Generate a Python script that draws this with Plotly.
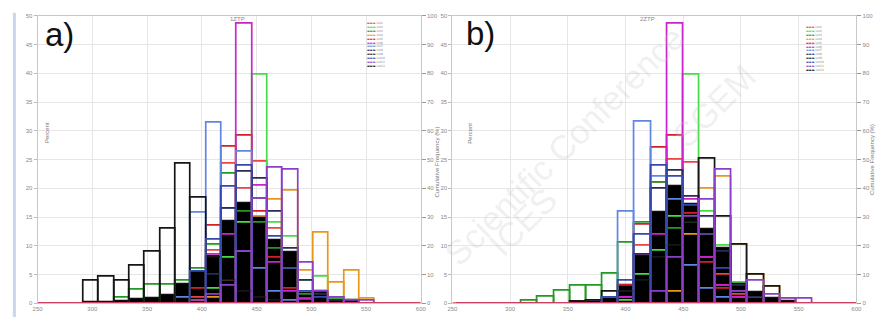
import plotly.graph_objects as go

W, H = 891, 320

# ---------------- data ----------------
bin_width = 14
bin_starts_a = [250 + 14 * i for i in range(25)]   # 250 ... 586
bin_starts_b = [254 + 14 * i for i in range(25)]   # 254 ... 590
x_ticks = [250, 300, 350, 400, 450, 500, 550, 600]
y_ticks_left = [0, 5, 10, 15, 20, 25, 30, 35, 40, 45, 50]
y_ticks_right = [0, 10, 20, 30, 40, 50, 60, 70, 80, 90, 100]

series_names = ["Lot1", "Lot2", "Lot3", "Lot4", "Lot5", "Lot6",
                "Lot7", "Lot8", "Lot9", "Lot10", "Lot11", "Lot12"]
series_colors = ["#ee4444", "#44dd44", "#229922", "#e8961e", "#d41e2a", "#cc22cc",
                 "#5f86e0", "#2a2a55", "#161616", "#3448b0", "#8a3fc8", "#000000"]

# panel a) values in %, bins starting 250, 264, ... (25 bins)
a_red =        [0,0,0, 0,0,0,0,0,0,0,1.0,9.2,24.2,20.0,24.6,13.0,6.0,2.0,0,0,0,0,0,0,0]
a_green =      [0,0,0, 0,0,0,0,0,0,0,0.5,2.5,8.0,14.0,39.8,14.0,11.5,3.9,4.6,0.8,0,0,0,0,0]
a_darkgreen =  [0,0,0, 0,0,1.0,2.4,3.3,3.3,3.9,6.0,10.1,22.5,16.0,14.0,9.5,6.0,1.5,0,0,0,0,0,0,0]
a_orange =     [0,0,0, 0,0,0,0,0,0,0,0,1.0,4.0,9.0,15.0,18.0,19.5,5.6,12.3,3.6,5.6,0.8,0,0,0]
a_crimson =    [0,0,0, 0,0,0,0,0,0,0,2.5,13.5,27.2,29.2,16.0,8.0,2.5,0.8,0,0,0,0,0,0,0]
a_magenta =    [0,0,0, 0,0,0,0,0,0,0,0.5,8.4,12.0,48.6,20.5,7.0,2.0,0.6,0,0,0,0,0,0,0]
a_blue =       [0,0,0, 0,0,0,0,0,0,1.0,15.8,31.4,16.5,26.3,6.0,2.0,0.5,0,0,1.0,0,0,0,0,0]
a_navy =       [0,0,0, 0,0,0,0,0,0,0,0,5.0,16.5,22.9,21.6,16.0,9.5,3.9,1.5,0.5,0,0,0,0,0]
a_black_line = [0,0,0, 3.9,4.6,3.9,6.6,9.0,13.0,24.3,18.4,8.0,4.0,2.0,1.0,0.5,0,0,0,0,0,0,0,0,0]
a_royal =      [0,0,0, 0,0,0,0,0,0,0,5.4,11.0,20.2,24.0,18.2,11.5,6.0,2.0,1.0,0,0,0,0,0,0]
a_purple =     [0,0,0, 0,0,0,0,0,0,0,0,1.5,3.0,9.0,18.2,23.5,23.2,7.0,2.0,1.0,0.4,0.4,0,0,0]
a_black_fill = [0,0,0, 0.3,0.3,0.5,0.7,1.0,1.5,3.4,5.4,8.3,14.4,17.5,15.0,11.0,9.0,1.9,2.1,0.7,0.6,0,0,0,0]

# panel b) values in %, bins starting 254, 268, ... (25 bins)
b_red =        [0,0,0,0, 0,0,0,0,0,0,1.0,10.0,21.0,25.0,24.5,12.0,5.0,1.5,0,0,0,0,0,0,0]
b_green =      [0,0,0,0, 0,0,0,0,0,0,0.5,5.0,9.2,15.0,39.8,16.0,10.0,3.5,1.0,0,0,0,0,0,0]
b_darkgreen =  [0,0,0,0, 0.5,1.2,2.2,3.1,3.1,5.1,10.5,14.0,21.0,13.0,14.0,8.0,3.0,1.0,0,0,0,0,0,0,0]
b_orange =     [0,0,0,0, 0,0,0,0,0,0,0,0,0,2.0,12.0,20.0,22.0,10.1,5.0,2.8,0.8,0,0,0,0]
b_crimson =    [0,0,0,0, 0,0,0,0,0,1.0,3.0,13.6,27.1,29.2,15.5,7.0,2.5,1.0,0,0,0,0,0,0,0]
b_magenta =    [0,0,0,0, 0,0,0,0,0,0,1.0,8.4,12.0,48.6,18.0,8.0,3.0,1.0,0,0,0,0,0,0,0]
b_blue =       [0,0,0,0, 0,0,0,0,0.5,1.0,15.9,31.5,22.0,18.0,6.5,2.5,1.0,0,0,0,0,0,0,0,0]
b_navy =       [0,0,0,0, 0,0,0,0,0,0,2.0,8.4,20.0,23.0,18.5,15.0,9.0,3.0,1.0,0,0,0,0,0,0]
b_black_line = [0,0,0,0, 0,0,0,0.3,0.5,2.0,2.0,4.0,8.0,10.0,14.0,25.2,15.0,10.1,5.0,2.8,0,0,0,0,0]
b_royal =      [0,0,0,0, 0,0,0,0,0,1.0,4.0,12.0,24.0,22.0,17.0,12.0,6.0,2.0,0,0,0,0,0,0,0]
b_purple =     [0,0,0,0, 0,0,0,0,0,0,0,0,2.0,8.0,15.0,18.0,23.3,2.0,4.0,1.5,0.85,0.85,0,0,0]
b_black_fill = [0,0,0,0, 0,0,0,0.3,0.5,1.0,3.3,8.3,15.9,20.4,17.3,13.0,9.6,3.5,2.0,1.0,0.4,0,0,0,0]

panel_a = [a_red, a_green, a_darkgreen, a_orange, a_crimson, a_magenta,
           a_blue, a_navy, a_black_line, a_royal, a_purple, a_black_fill]
panel_b = [b_red, b_green, b_darkgreen, b_orange, b_crimson, b_magenta,
           b_blue, b_navy, b_black_line, b_royal, b_purple, b_black_fill]

panel_letters = ["a)", "b)"]
panel_titles = ["1ZTP", "2ZTP"]
left_title = "Percent"
right_title = "Cumulative Frequency (%)"

# ---------------- figure ----------------
def pxx(x):
    return x / W


def pyy(y):
    return 1 - y / H


fig = go.Figure()

panels = [
    dict(data=panel_a, starts=bin_starts_a, xa="x", ya="y", ya2="y2",
         dom=[pxx(33), pxx(421)]),
    dict(data=panel_b, starts=bin_starts_b, xa="x2", ya="y3", ya2="y4",
         dom=[pxx(453), pxx(862)]),
]

for p in panels:
    centers = [s + bin_width / 2 for s in p["starts"]]
    fig.add_trace(go.Bar(x=centers, y=p["data"][-1], width=bin_width,
                         marker=dict(color=series_colors[-1],
                                     line=dict(color=series_colors[-1], width=1)),
                         xaxis=p["xa"], yaxis=p["ya"], showlegend=False,
                         hoverinfo="skip"))
    fig.add_trace(go.Scatter(x=[x_ticks[0], x_ticks[-1]], y=[0, 0], mode="lines",
                             line=dict(color="#e04040", width=2),
                             xaxis=p["xa"], yaxis=p["ya"], showlegend=False,
                             hoverinfo="skip"))
    for vals, col in zip(p["data"][:-1], series_colors[:-1]):
        fig.add_trace(go.Bar(x=centers, y=vals, width=bin_width,
                             marker=dict(color="rgba(0,0,0,0)",
                                         line=dict(color=col, width=1.7)),
                             xaxis=p["xa"], yaxis=p["ya"], showlegend=False,
                             hoverinfo="skip"))
    fig.add_trace(go.Scatter(x=[x_ticks[0]], y=[y_ticks_right[0]], mode="markers",
                             marker=dict(opacity=0), xaxis=p["xa"], yaxis=p["ya2"],
                             showlegend=False, hoverinfo="skip"))

tickfont = dict(size=6, color="#8a8a8a", family="Liberation Sans, Arial")
ydom = [pyy(306), pyy(13)]

common_x = dict(range=[x_ticks[0], x_ticks[-1]], tickvals=x_ticks,
                showgrid=True, gridcolor="#e6e6e6", gridwidth=1,
                showline=True, linecolor="#c8c8c8", mirror=True,
                ticks="", tickfont=tickfont, zeroline=False)
common_yl = dict(range=[0, 50], tickvals=y_ticks_left, showgrid=True,
                 gridcolor="#e6e6e6", gridwidth=1, showline=True,
                 linecolor="#c8c8c8", ticks="outside", ticklen=3,
                 tickcolor="#bbbbbb", tickfont=tickfont, zeroline=False,
                 domain=ydom)
common_yr = dict(range=[0, 100], tickvals=y_ticks_right, showgrid=False,
                 showline=True, linecolor="#c8c8c8", ticks="outside",
                 ticklen=4, tickcolor="#999999", tickfont=tickfont,
                 zeroline=False, side="right")

fig.update_layout(
    width=W, height=H, margin=dict(l=0, r=0, t=0, b=0),
    paper_bgcolor="white", plot_bgcolor="white",
    barmode="overlay", bargap=0, showlegend=False,
    xaxis=dict(domain=panels[0]["dom"], anchor="y", **common_x),
    xaxis2=dict(domain=panels[1]["dom"], anchor="y3", **common_x),
    yaxis=dict(anchor="x", **common_yl),
    yaxis2=dict(anchor="x", overlaying="y", **common_yr),
    yaxis3=dict(anchor="x2", **common_yl),
    yaxis4=dict(anchor="x2", overlaying="y3", **common_yr),
)

ann = []
# faint watermark
wm = "rgba(195,195,195,0.25)"
wm_font = dict(size=34, color=wm, family="Liberation Sans, Arial")
ann.append(dict(x=pxx(566), y=pyy(146), xref="paper", yref="paper",
                text="Scientific Conference", showarrow=False, textangle=-45,
                font=wm_font))
ann.append(dict(x=pxx(524), y=pyy(268), xref="paper", yref="paper",
                text="ICES", showarrow=False, textangle=-45, font=wm_font))
ann.append(dict(x=pxx(770), y=pyy(52), xref="paper", yref="paper",
                text="SGEM", showarrow=False, textangle=-45, font=wm_font))

letter_pos = [(38, 32), (465, 31)]
title_pos = [(226, 11), (660, 11)]
ltitle_pos = [(37, 132), (470, 133)]
rtitle_pos = [(437, 162), (883, 160)]
legend_pos = [(365, 42), (809, 46)]
for i in range(2):
    ann.append(dict(x=pxx(letter_pos[i][0]), y=pyy(letter_pos[i][1]), xref="paper",
                    yref="paper", text=panel_letters[i], showarrow=False,
                    xanchor="left", yanchor="middle",
                    font=dict(size=33, color="#111111", family="Liberation Sans, Arial")))
    ann.append(dict(x=pxx(title_pos[i][0]), y=pyy(title_pos[i][1]), xref="paper",
                    yref="paper", text=panel_titles[i], showarrow=False,
                    font=dict(size=6, color="#888888", family="Liberation Sans, Arial")))
    ann.append(dict(x=pxx(ltitle_pos[i][0]), y=pyy(ltitle_pos[i][1]), xref="paper",
                    yref="paper", text=left_title, showarrow=False, textangle=-90,
                    font=dict(size=6, color="#777777", family="Liberation Sans, Arial")))
    ann.append(dict(x=pxx(rtitle_pos[i][0]), y=pyy(rtitle_pos[i][1]), xref="paper",
                    yref="paper", text=right_title, showarrow=False, textangle=-90,
                    font=dict(size=6, color="#777777", family="Liberation Sans, Arial")))
    lines = [f'<span style="color:{col}">▬▬▬</span> {name}'
             for name, col in zip(series_names, series_colors)]
    lx, ly = legend_pos[i]
    ann.append(dict(x=pxx(lx), y=pyy(ly), xref="paper", yref="paper",
                    xanchor="left", yanchor="middle", align="left", showarrow=False,
                    text="<br>".join(lines),
                    font=dict(size=3, color="#888888", family="DejaVu Sans")))

fig.update_layout(annotations=ann)
fig.add_shape(type="line", xref="paper", yref="paper", x0=pxx(9.5), x1=pxx(9.5),
              y0=0, y1=pyy(10), line=dict(color="#c9d7ea", width=3))

fig.write_html("out.html")
